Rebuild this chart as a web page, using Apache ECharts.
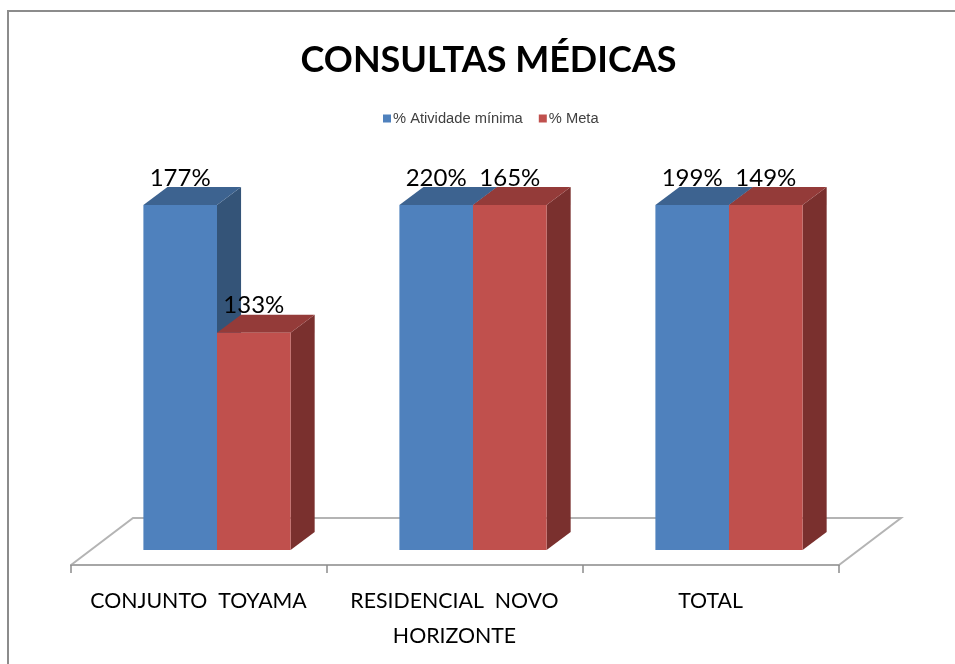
<!DOCTYPE html>
<html><head><meta charset="utf-8">
<style>html,body{margin:0;padding:0;background:#fff}#c{width:955px;height:664px}</style>
<script src="https://cdn.jsdelivr.net/npm/echarts@6/dist/echarts.min.js"></script>
</head><body><div id="c"></div>
<script>
var categories = ['CONJUNTO  TOYAMA', 'RESIDENCIAL  NOVO\nHORIZONTE', 'TOTAL'];
var atividadeLabels = ['177%', '220%', '199%'];
var metaLabels = ['133%', '165%', '149%'];
// Drawn column heights, as pictured (columns reach a common ceiling in the source)
var atividadeHeights = [100, 100, 100];
var metaHeights = [63, 100, 100];

var chart = echarts.init(document.getElementById('c'), null, {renderer: 'canvas'});

function barRenderer(pos, front, side, top, labels) {
  return function (params, api) {
    var i = api.value(0);
    var base = api.coord([i, 0]);
    var head = api.coord([i, api.value(1)]);
    var w = api.size([1, 0])[0];
    var bw = w * 0.2875, dx = w * 0.094, dy = 18;
    var cx = base[0] + w * 0.0703;
    var x0 = cx + (pos === 0 ? -bw : 0), x1 = x0 + bw;
    var yb = base[1], yt = head[1];
    return {
      type: 'group',
      children: [
        {type: 'polygon', shape: {points: [[x1, yb], [x1 + dx, yb - dy], [x1 + dx, yt - dy], [x1, yt]]}, style: {fill: side}},
        {type: 'polygon', shape: {points: [[x0, yt], [x0 + dx, yt - dy], [x1 + dx, yt - dy], [x1, yt]]}, style: {fill: top}},
        {type: 'rect', shape: {x: x0, y: yt, width: bw, height: yb - yt}, style: {fill: front}},
        {type: 'text', style: {text: labels[i], x: (x0 + x1) / 2, y: yt - 27, align: 'center', verticalAlign: 'middle',
          font: '24px Lato, sans-serif', fill: '#000'}, z2: 10}
      ]
    };
  };
}

function pairs(arr) { return arr.map(function (v, i) { return [i, v]; }); }

chart.setOption({
  animation: false,
  backgroundColor: '#fff',
  title: {
    text: 'CONSULTAS MÉDICAS', left: 483.5, top: 37, textAlign: 'center',
    textStyle: {fontFamily: 'Lato', fontWeight: 'bold', fontSize: 36, color: '#000'}
  },
  legend: {
    left: 378, top: 106, itemWidth: 8, itemHeight: 8, itemGap: 16,
    icon: 'rect',
    textStyle: {fontFamily: 'Liberation Sans', fontSize: 14.7, color: '#404040', padding: [0, 0, 0, -3]},
    data: ['% Atividade mínima', '% Meta']
  },
  grid: {left: 71, right: 116, top: 205, bottom: 99},
  xAxis: {
    type: 'category', data: categories,
    axisLine: {onZero: false, lineStyle: {color: '#a6a6a6', width: 2}},
    axisTick: {show: true, alignWithLabel: false, length: 8, lineStyle: {color: '#8c8c8c', width: 1.5}},
    axisLabel: {fontFamily: 'Lato', fontSize: 21.3, color: '#000', margin: 19, lineHeight: 35, interval: 0, padding: [0, 1, 0, 0]}
  },
  yAxis: {type: 'value', min: -4.35, max: 100, show: false, splitLine: {show: false}},
  tooltip: {show: false},
  graphic: [
    {type: 'polyline', shape: {points: [[8, 664], [8, 11], [955, 11]]}, style: {fill: 'none', stroke: '#8c8c8c', lineWidth: 2}, z: -10, silent: true},
    {type: 'polyline', shape: {points: [[71, 565], [133, 518], [901, 518], [839, 565]]}, style: {fill: 'none', stroke: '#b4b4b4', lineWidth: 2}, z: -5, silent: true}
  ],
  series: [
    {name: '% Atividade mínima', type: 'custom', clip: false, z: 3, itemStyle: {color: '#4f81bd'},
      renderItem: barRenderer(0, '#4f81bd', '#345478', '#3d6390', atividadeLabels), encode: {x: 0, y: 1}, data: pairs(atividadeHeights)},
    {name: '% Meta', type: 'custom', clip: false, z: 4, itemStyle: {color: '#c0504d'},
      renderItem: barRenderer(1, '#c0504d', '#7a302e', '#943b39', metaLabels), encode: {x: 0, y: 1}, data: pairs(metaHeights)}
  ]
});
</script></body></html>
